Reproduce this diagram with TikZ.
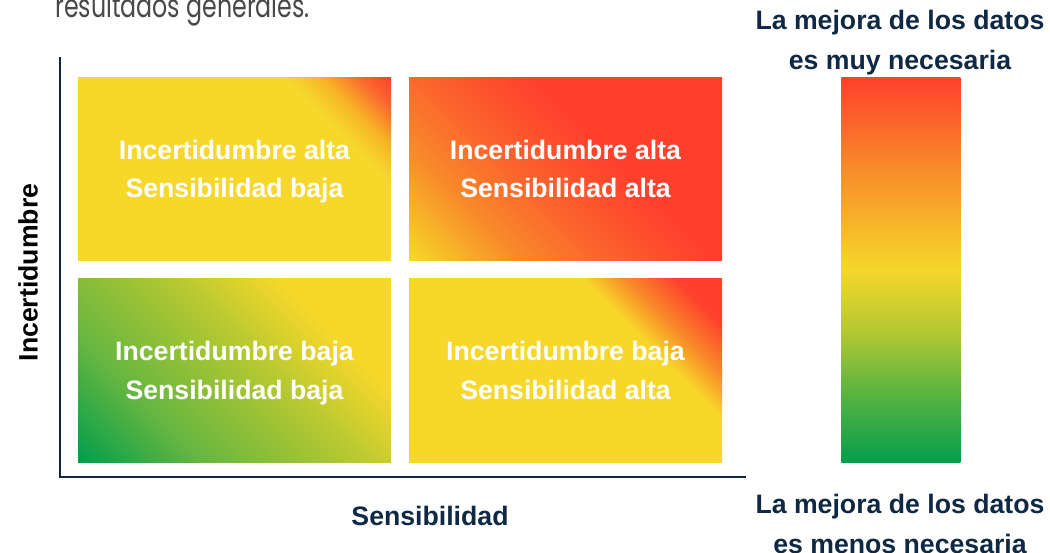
\documentclass[tikz,border=0pt]{standalone}
\usepackage{fontspec}
\setmainfont{Liberation Sans}
\newfontfamily\titlefont{Poppins}
\usetikzlibrary{positioning}

\definecolor{amarillo}{RGB}{246,215,42}
\definecolor{amarillonaranja}{RGB}{246,180,40}
\definecolor{naranja}{RGB}{248,140,42}
\definecolor{naranjarojo}{RGB}{251,105,45}
\definecolor{rojo}{RGB}{255,64,45}
\definecolor{verde}{RGB}{4,158,76}
\definecolor{verdemedio}{RGB}{100,182,64}
\definecolor{lima}{RGB}{180,200,50}
\definecolor{azul}{RGB}{15,40,68}
\definecolor{gris}{RGB}{72,72,72}

% degradados a 45 grados (la caja va de 15bp a 85bp)
\pgfdeclarehorizontalshading{esquinaroja}{100bp}{color(0bp)=(amarillo); color(70.5bp)=(amarillo); color(75.5bp)=(amarillonaranja); color(81bp)=(naranjarojo); color(85.5bp)=(rojo); color(100bp)=(rojo)}
\pgfdeclarehorizontalshading{esquinarojab}{100bp}{color(0bp)=(amarillo); color(65.5bp)=(amarillo); color(71.5bp)=(naranja); color(79bp)=(rojo); color(100bp)=(rojo)}
\pgfdeclarehorizontalshading{mitadroja}{100bp}{color(0bp)=(amarillo); color(15bp)=(amarillo); color(22bp)=(amarillonaranja); color(30bp)=(naranja); color(41bp)=(naranjarojo); color(57.5bp)=(rojo); color(100bp)=(rojo)}
\pgfdeclarehorizontalshading{esquinaverde}{100bp}{color(0bp)=(verde); color(15bp)=(verde); color(32bp)=(verdemedio); color(54bp)=(lima); color(69bp)=(amarillo); color(100bp)=(amarillo)}
\pgfdeclareverticalshading{escala}{100bp}{color(0bp)=(verde); color(25bp)=(verde); color(35bp)=(verdemedio); color(42bp)=(lima); color(50bp)=(amarillo); color(63bp)=(naranja); color(75bp)=(rojo); color(100bp)=(rojo)}

\tikzset{
    caja/.style={minimum width=313*0.75pt, minimum height=183.5*0.75pt, inner sep=0pt, outer sep=0pt,
        text depth=0pt, shading angle=45,
        align=center, text=white, font=\fontsize{20}{29}\selectfont\bfseries},
    rotulo/.style={align=center, text=azul, font=\fontsize{20}{30}\selectfont\bfseries}
}

\begin{document}
\begin{tikzpicture}[x=0.75pt, y=-0.75pt]
    \clip (0,0) rectangle (1050,553);

    % titulo cortado arriba
    \node[anchor=base west, inner sep=0pt, text=gris, xscale=0.74, transform shape,
        font=\fontsize{24}{24}\selectfont\titlefont]
        (titulo) at (55,17.5) {resultados generales.};

    % ejes
    \coordinate (arriba) at (60,57);
    \coordinate (origen) at (60,477);
    \coordinate (derecha) at (746,477);
    \draw[azul, line width=1.5pt] (arriba) -- (origen) -- (derecha);

    % cuadrantes
    \node[caja, shading=esquinaroja, anchor=north west]
        (altabaja) at (78,77) {Incertidumbre alta\\Sensibilidad baja};
    \node[caja, shading=mitadroja, right=13.5pt of altabaja]
        (altaalta) {Incertidumbre alta\\Sensibilidad alta};
    \node[caja, shading=esquinaverde, below=13.5pt of altabaja]
        (bajabaja) {Incertidumbre baja\\Sensibilidad baja};
    \node[caja, shading=esquinarojab, below=13.5pt of altaalta]
        (bajaalta) {Incertidumbre baja\\Sensibilidad alta};

    % escala de color
    \node[shading=escala, minimum width=119*0.75pt, minimum height=385*0.75pt, inner sep=0pt,
        anchor=north west] (barra) at (841,77) {};
    \node[rotulo] (muy) at (900,43) {La mejora de los datos\\es muy necesaria};
    \node[rotulo] (menos) at (900,523.5) {La mejora de los datos\\es menos necesaria};

    % nombres de los ejes
    \node[rotulo] (sens) at (430,516) {Sensibilidad};
    \node[rotulo, text=black, rotate=90] (incert) at (28,272.5) {Incertidumbre};
\end{tikzpicture}
\end{document}
